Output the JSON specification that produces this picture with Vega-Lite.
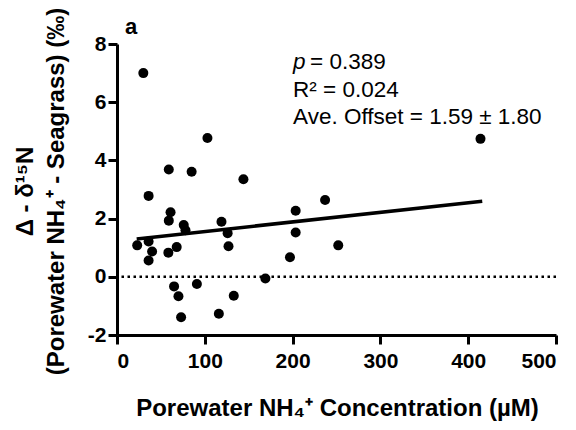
{
  "$schema": "https://vega.github.io/schema/vega-lite/v6.json",
  "width": 439,
  "height": 291,
  "autosize": {"type": "none"},
  "padding": {"left": 117, "top": 44, "right": 20, "bottom": 95},
  "background": "white",
  "config": {
    "view": {"stroke": null},
    "font": "Liberation Sans",
    "axis": {
      "grid": false,
      "domainColor": "black",
      "domainWidth": 3,
      "tickColor": "black",
      "tickWidth": 3,
      "tickSize": 9,
      "labelFont": "Liberation Sans",
      "labelFontWeight": "bold",
      "labelFontSize": 21,
      "labelColor": "black",
      "titleFont": "Liberation Sans",
      "titleFontWeight": "bold",
      "titleColor": "black"
    }
  },
  "datasets": {
    "pts": [
      {"conc": 30, "offset": 7.0},
      {"conc": 103, "offset": 4.77},
      {"conc": 59, "offset": 3.69},
      {"conc": 85, "offset": 3.61},
      {"conc": 144, "offset": 3.35},
      {"conc": 36, "offset": 2.78},
      {"conc": 61, "offset": 2.22},
      {"conc": 59, "offset": 1.93},
      {"conc": 76, "offset": 1.78},
      {"conc": 78, "offset": 1.6},
      {"conc": 119, "offset": 1.89},
      {"conc": 126, "offset": 1.5},
      {"conc": 203.5, "offset": 2.27},
      {"conc": 203.5, "offset": 1.52},
      {"conc": 197, "offset": 0.67},
      {"conc": 23, "offset": 1.08},
      {"conc": 36, "offset": 1.21},
      {"conc": 40, "offset": 0.87},
      {"conc": 36, "offset": 0.56},
      {"conc": 58.5, "offset": 0.83},
      {"conc": 68, "offset": 1.02},
      {"conc": 127, "offset": 1.05},
      {"conc": 169, "offset": -0.06},
      {"conc": 65, "offset": -0.33},
      {"conc": 70, "offset": -0.67},
      {"conc": 91, "offset": -0.25},
      {"conc": 133, "offset": -0.65},
      {"conc": 73, "offset": -1.39},
      {"conc": 116, "offset": -1.27},
      {"conc": 414, "offset": 4.74},
      {"conc": 237, "offset": 2.64},
      {"conc": 252, "offset": 1.08}
    ],
    "fit": [
      {"conc": 22.4, "offset": 1.30},
      {"conc": 416, "offset": 2.60}
    ],
    "one": [{}]
  },
  "layer": [
    {
      "data": {"name": "one"},
      "mark": {"type": "rule", "color": "black", "strokeWidth": 2.5, "strokeDash": [2.5, 3.5]},
      "encoding": {"y": {"datum": 0, "type": "quantitative", "scale": {"domain": [-2, 8], "nice": false}}}
    },
    {
      "data": {"name": "pts"},
      "mark": {"type": "circle", "color": "black", "opacity": 1, "size": 100},
      "encoding": {
        "x": {
          "field": "conc", "type": "quantitative",
          "scale": {"domain": [0, 500], "nice": false},
          "axis": {"values": [0, 100, 200, 300, 400, 500], "labelPadding": 6, "titleFontSize": 24,
                   "titleBaseline": "alphabetic", "titleX": 220, "titleY": 80,
                   "title": "Porewater NH₄⁺ Concentration (µM)"}
        },
        "y": {
          "field": "offset", "type": "quantitative",
          "scale": {"domain": [-2, 8], "nice": false},
          "axis": {"values": [-2, 0, 2, 4, 6, 8], "labelPadding": 2, "titleFontSize": 24, "titleLineHeight": 31,
                   "labelExpr": "datum.value < 0 ? '-' + abs(datum.value) : '' + datum.value",
                   "titleBaseline": "bottom", "titleX": -80, "titleY": 147,
                   "title": ["Δ - δ¹⁵N", "(Porewater NH₄⁺ - Seagrass) (‰)"]}
        }
      }
    },
    {
      "data": {"name": "fit"},
      "mark": {"type": "line", "color": "black", "strokeWidth": 3.5},
      "encoding": {
        "x": {"field": "conc", "type": "quantitative"},
        "y": {"field": "offset", "type": "quantitative"}
      }
    },
    {
      "data": {"name": "one"},
      "mark": {"type": "text", "text": "p", "fontStyle": "italic", "fontSize": 22.5, "align": "left", "baseline": "alphabetic", "color": "black"},
      "encoding": {"x": {"datum": 200.5}, "y": {"datum": 7.14}}
    },
    {
      "data": {"name": "one"},
      "mark": {"type": "text", "text": "= 0.389", "fontSize": 22.5, "align": "left", "baseline": "alphabetic", "dx": 17, "color": "black"},
      "encoding": {"x": {"datum": 200.5}, "y": {"datum": 7.14}}
    },
    {
      "data": {"name": "one"},
      "mark": {"type": "text", "text": "R² = 0.024", "fontSize": 22.5, "align": "left", "baseline": "alphabetic", "color": "black"},
      "encoding": {"x": {"datum": 200.5}, "y": {"datum": 6.18}}
    },
    {
      "data": {"name": "one"},
      "mark": {"type": "text", "text": "Ave. Offset = 1.59 ± 1.80", "fontSize": 22.5, "align": "left", "baseline": "alphabetic", "color": "black"},
      "encoding": {"x": {"datum": 200.5}, "y": {"datum": 5.24}}
    },
    {
      "data": {"name": "one"},
      "mark": {"type": "text", "text": "a", "fontSize": 22, "fontWeight": "bold", "align": "center", "baseline": "alphabetic", "color": "black"},
      "encoding": {"x": {"datum": 16}, "y": {"datum": 8.36}}
    }
  ]
}
